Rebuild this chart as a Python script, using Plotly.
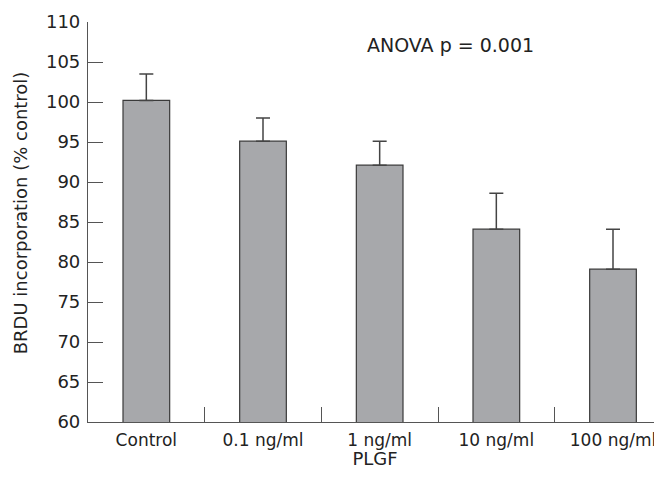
import plotly.graph_objects as go

categories = ["Control", "0.1 ng/ml", "1 ng/ml", "10 ng/ml", "100 ng/ml"]
values = [100.2, 95.1, 92.1, 84.1, 79.1]
errors = [3.3, 2.9, 3.0, 4.5, 5.0]
y_ticks = [60, 65, 70, 75, 80, 85, 90, 95, 100, 105, 110]

font_family = "'DejaVu Sans', sans-serif"
axis_color = "#555555"
text_color = "#222222"

fig = go.Figure()
fig.add_trace(go.Bar(
    x=categories, y=values,
    width=0.4,
    marker=dict(color="#a7a8ab", line=dict(color="#3a3a3a", width=1.2)),
    error_y=dict(type="data", symmetric=False, array=errors, arrayminus=[0]*len(errors),
                 color="#444444", thickness=1.5, width=7),
))

# page body has an 8px default margin, so the figure is sized to compensate
fig.update_layout(
    width=654, height=461,
    margin=dict(l=80, r=0, t=14, b=47),
    plot_bgcolor="white", paper_bgcolor="white",
    showlegend=False,
    font=dict(family=font_family, size=17, color=text_color),
    xaxis=dict(
        type="category", range=[-0.5, 4.42], automargin=False,
        showline=True, linecolor=axis_color, linewidth=1.2,
        ticks="inside", ticklen=15, tickcolor=axis_color, tickwidth=1.2,
        tickson="boundaries", showgrid=False, zeroline=False,
        ticklabelstandoff=2,
        tickfont=dict(size=17, color=text_color),
        title=dict(text="PLGF", font=dict(size=18, color=text_color), standoff=12),
    ),
    yaxis=dict(
        range=[60, 110], tickvals=y_ticks, automargin=False,
        showline=True, linecolor=axis_color, linewidth=1.2,
        ticks="inside", ticklen=15, tickcolor=axis_color, tickwidth=1.2,
        showgrid=False, zeroline=False,
        ticklabelstandoff=3,
        tickfont=dict(size=18, color=text_color),
    ),
    annotations=[
        dict(
            text="ANOVA p = 0.001", xref="paper", yref="paper",
            x=0.632, y=0.9425, xanchor="center", yanchor="middle", showarrow=False,
            font=dict(size=19, color=text_color),
        ),
        dict(
            text="BRDU incorporation (% control)", xref="paper", yref="paper",
            x=-0.118, y=0.5225, xanchor="center", yanchor="middle", showarrow=False,
            textangle=-90, font=dict(size=18, color=text_color),
        ),
    ],
)

fig.write_html("out.html")
